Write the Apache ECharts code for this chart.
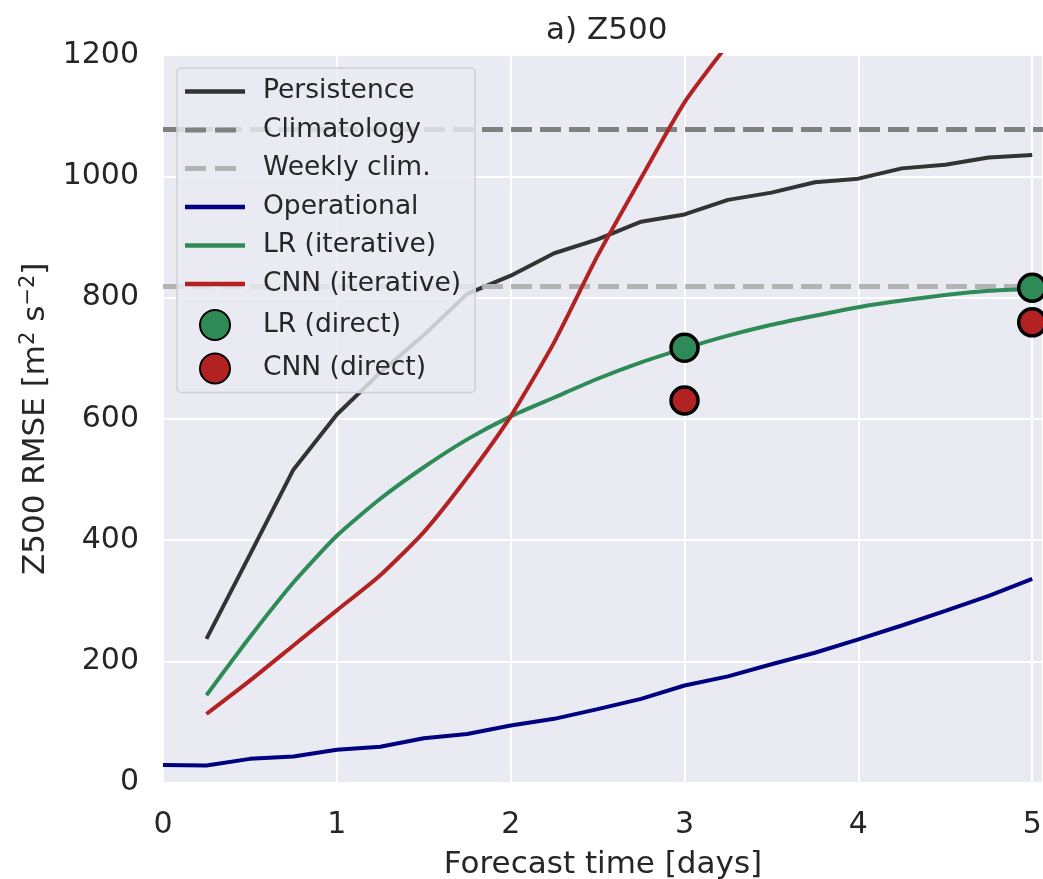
<!DOCTYPE html>
<html>
<head>
<meta charset="utf-8">
<script src="https://cdn.jsdelivr.net/npm/echarts@6/dist/echarts.min.js"></script>
<style>
html,body{margin:0;padding:0;background:#fff;}
#chart{width:1043px;height:879px;}
</style>
</head>
<body>
<div id="chart"></div>
<script>
// ---- data ----
const leadDays = [0.25,0.5,0.75,1,1.25,1.5,1.75,2,2.25,2.5,2.75,3,3.25,3.5,3.75,4,4.25,4.5,4.75,5];
const opDays = [0,0.25,0.5,0.75,1,1.25,1.5,1.75,2,2.25,2.5,2.75,3,3.25,3.5,3.75,4,4.25,4.5,4.75,5];
const persistence = [237,376,516,607,676,738,806,836,873,896,925,937,961,973,990,996,1013,1019,1031,1035];
const operational = [29,28,39,43,54,59,73,80,94,105,121,138,160,175,195,214,236,259,283,308,336];
const lrIterative = [144,240,330,407,468,520,566,604,635,666,693,716,737,755,770,784,795,804,811,814];
const cnnDays = [0.25,0.5,0.75,1,1.25,1.5,1.75,2,2.25,2.5,2.75,3,3.25];
const cnnIterative = [113,168,226,284,342,413,503,604,726,869,997,1122,1218];
const climatology = 1077;
const weeklyClim = 818;
const directDays = [3,5];
const lrDirect = [717,816];
const cnnDirect = [630,759];
const xTicks = [0,1,2,3,4,5];
const yTicks = [0,200,400,600,800,1000,1200];

const X_MIN = 0, X_MAX = 5.062;
const FONT = 'DejaVu Sans';
const TXT = '#262626';

const SOLID_ICON = 'path://M0,0H60V4.5H0Z';
const DASH_ICON = 'path://M0,0H21V5H0Z M30,0H51V5H30Z M60,0L60,5Z';

function pairs(xs, ys){ return ys.map((v,i)=>[xs[i], v]); }

const chart = echarts.init(document.getElementById('chart'), null, {renderer:'canvas'});
const option = {
  animation:false,
  backgroundColor:'#ffffff',
  title:{
    text:'a) Z500', left:541, top:10,
    textStyle:{fontFamily:FONT, fontSize:31, fontWeight:'normal', color:TXT}
  },
  grid:{
    left:163, right:0, top:55, bottom:96.5, show:true,
    backgroundColor:'#EAEAF2', borderWidth:0, containLabel:false, outerBoundsMode:'none'
  },
  xAxis:{
    type:'value', min:X_MIN, max:X_MAX, interval:1,
    name:'Forecast time [days]', nameLocation:'middle', nameGap:67,
    nameTextStyle:{fontFamily:FONT, fontSize:31, color:TXT},
    axisLine:{show:false}, axisTick:{show:false},
    axisLabel:{fontFamily:FONT, fontSize:30, color:TXT, margin:28, showMaxLabel:false,
      formatter:v=> xTicks.indexOf(v)>=0 ? String(v) : ''},
    splitLine:{show:true, lineStyle:{color:'#ffffff', width:2}}
  },
  yAxis:{
    type:'value', min:0, max:1200, interval:200,
    name:'{a|Z500 RMSE [m}{b|2}{a| s}{b|−2}{a|]}', nameLocation:'middle', nameGap:104,
    nameTextStyle:{fontFamily:FONT, fontSize:31, color:TXT,
      rich:{
        a:{fontFamily:FONT, fontSize:31, color:TXT, verticalAlign:'bottom'},
        b:{fontFamily:FONT, fontSize:21, color:TXT, verticalAlign:'bottom', padding:[0,0,13,0]}
      }},
    axisLine:{show:false}, axisTick:{show:false},
    axisLabel:{fontFamily:FONT, fontSize:30, color:TXT, margin:24,
      formatter:v=> yTicks.indexOf(v)>=0 ? String(v) : ''},
    splitLine:{show:true, lineStyle:{color:'#ffffff', width:2}}
  },
  legend:{
    orient:'vertical', left:177, top:68,
    padding:[10,14,8,8], itemWidth:60, itemHeight:30, itemGap:11.5,
    backgroundColor:'rgba(234,234,242,0.82)', borderColor:'#cfcfd6', borderWidth:1.5, borderRadius:4,
    textStyle:{fontFamily:FONT, fontSize:26.5, color:TXT, padding:[0,0,0,13]},
    data:[
      {name:'Persistence', icon:SOLID_ICON},
      {name:'Climatology', icon:DASH_ICON},
      {name:'Weekly clim.', icon:DASH_ICON},
      {name:'Operational', icon:SOLID_ICON},
      {name:'LR (iterative)', icon:SOLID_ICON},
      {name:'CNN (iterative)', icon:SOLID_ICON},
      {name:'LR (direct)', icon:'circle'},
      {name:'CNN (direct)', icon:'circle'}
    ]
  },
  series:[
    {name:'Persistence', type:'line', data:pairs(leadDays, persistence), symbol:'none',
      lineStyle:{color:'#333333', width:4}, itemStyle:{color:'#333333'}},
    {name:'Climatology', type:'line', data:[[X_MIN,climatology],[X_MAX,climatology]], symbol:'none',
      lineStyle:{color:'#808080', width:5, type:[21,8]}, itemStyle:{color:'#808080'}},
    {name:'Weekly clim.', type:'line', data:[[X_MIN,weeklyClim],[X_MAX,weeklyClim]], symbol:'none',
      lineStyle:{color:'#b3b3b3', width:5, type:[21,8]}, itemStyle:{color:'#b3b3b3'}},
    {name:'Operational', type:'line', data:pairs(opDays, operational), symbol:'none',
      lineStyle:{color:'#000080', width:4}, itemStyle:{color:'#000080'}},
    {name:'LR (iterative)', type:'line', data:pairs(leadDays, lrIterative), symbol:'none', smooth:0.2,
      lineStyle:{color:'#2e8b57', width:4}, itemStyle:{color:'#2e8b57'}},
    {name:'CNN (iterative)', type:'line', data:pairs(cnnDays, cnnIterative), symbol:'none', smooth:0.2, clip:true,
      lineStyle:{color:'#b22222', width:4}, itemStyle:{color:'#b22222'}},
    {name:'LR (direct)', type:'scatter', data:pairs(directDays, lrDirect), symbol:'circle', symbolSize:27,
      itemStyle:{color:'#2e8b57', borderColor:'#000000', borderWidth:3.5, opacity:1}, z:5},
    {name:'CNN (direct)', type:'scatter', data:pairs(directDays, cnnDirect), symbol:'circle', symbolSize:27,
      itemStyle:{color:'#b22222', borderColor:'#000000', borderWidth:3.5, opacity:1}, z:5}
  ]
};
chart.setOption(option);
</script>
</body>
</html>
